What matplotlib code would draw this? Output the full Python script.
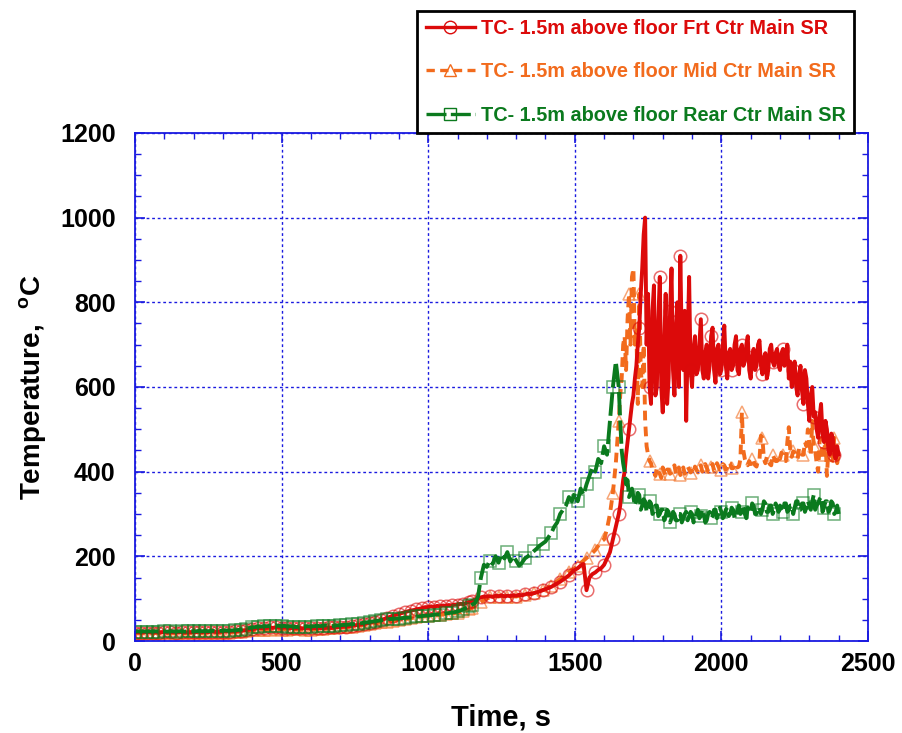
import numpy as np
import matplotlib
matplotlib.use('Agg')
import matplotlib.pyplot as plt
from matplotlib.lines import Line2D

plt.rcParams['font.family'] = ['Liberation Sans', 'DejaVu Sans']
plt.rcParams['font.weight'] = 'bold'
plt.rcParams['mathtext.fontset'] = 'custom'
plt.rcParams['mathtext.rm'] = 'Liberation Sans:bold'
plt.rcParams['mathtext.bf'] = 'Liberation Sans:bold'

# readings every 10 s up to 1640 s, every 5 s after that (noisy part)
t_early = np.arange(0, 1650, 10)
t_late = np.arange(1650, 2401, 5)

labels = ['TC- 1.5m above floor Frt Ctr Main SR',
          'TC- 1.5m above floor Mid Ctr Main SR',
          'TC- 1.5m above floor Rear Ctr Main SR']

frt_early = [
    20, 21, 20, 21, 20, 21, 20, 21, 20, 21,
    21, 20, 21, 21, 20, 21, 21, 20, 21, 21,
    21, 21, 22, 21, 22, 21, 22, 22, 21, 22,
    22, 23, 22, 23, 23, 24, 24, 25, 26, 27,
    28, 29, 30, 30, 31, 31, 32, 31, 32, 32,
    31, 32, 31, 30, 31, 30, 31, 30, 30, 31,
    30, 31, 30, 31, 30, 31, 32, 31, 32, 33,
    33, 34, 34, 35, 36, 37, 38, 39, 40, 42,
    43, 45, 46, 48, 50, 52, 55, 57, 60, 62,
    64, 66, 68, 70, 72, 73, 75, 76, 78, 80,
    80, 82, 80, 83, 82, 84, 83, 85, 84, 86,
    86, 88, 87, 90, 92, 95, 98, 100, 103, 105,
    105, 106, 104, 107, 106, 108, 105, 107, 106, 108,
    107, 109, 108, 110, 112, 111, 113, 115, 117, 120,
    122, 125, 128, 132, 136, 140, 145, 150, 155, 162,
    168, 172, 178, 182, 120, 150, 158, 162, 168, 172,
    180, 195, 210, 240, 270]
frt_late = [
    300, 320, 350, 380, 400, 440, 470, 500, 530, 560, 580, 620, 650, 700, 740, 820, 880, 960, 1000, 700,
    820, 600, 560, 780, 840, 580, 600, 760, 860, 600, 540, 700, 820, 560, 620, 780, 880, 640, 580, 740,
    800, 600, 910, 700, 640, 780, 520, 700, 860, 640, 600, 690, 720, 630, 640, 700, 760, 640, 620, 680,
    700, 620, 650, 720, 740, 640, 610, 690, 700, 630, 640, 700, 745, 650, 620, 680, 690, 640, 650, 700,
    720, 640, 630, 690, 700, 650, 660, 700, 720, 640, 620, 670, 690, 640, 650, 700, 710, 650, 630, 670,
    680, 620, 640, 690, 700, 660, 650, 680, 690, 650, 640, 680, 690, 650, 680, 700, 620, 660, 600, 640,
    660, 600, 580, 630, 650, 590, 560, 640, 620, 560, 520, 580, 600, 530, 540, 500, 480, 530, 560, 490,
    470, 520, 500, 450, 440, 490, 480, 440, 430, 460, 440]

mid_early = [
    18, 19, 18, 19, 18, 19, 18, 19, 18, 19,
    19, 18, 19, 19, 18, 19, 19, 18, 19, 19,
    19, 19, 20, 19, 20, 19, 20, 20, 19, 20,
    20, 21, 20, 21, 21, 22, 22, 23, 23, 24,
    25, 25, 26, 26, 27, 27, 27, 28, 28, 28,
    27, 28, 27, 27, 28, 27, 28, 27, 27, 28,
    27, 28, 28, 28, 29, 29, 30, 30, 31, 31,
    32, 32, 33, 33, 34, 35, 36, 37, 38, 39,
    40, 41, 42, 43, 44, 45, 46, 47, 48, 49,
    50, 51, 52, 53, 54, 55, 56, 57, 58, 59,
    60, 60, 61, 62, 62, 63, 64, 64, 65, 66,
    67, 68, 70, 72, 75, 78, 82, 87, 92, 97,
    100, 103, 104, 106, 105, 107, 106, 105, 104, 106,
    105, 107, 106, 108, 110, 111, 113, 115, 118, 120,
    123, 127, 131, 136, 141, 146, 152, 158, 163, 168,
    172, 178, 184, 190, 196, 202, 208, 215, 225, 235,
    240, 265, 300, 350, 420]
mid_late = [
    520, 580, 620, 700, 720, 640, 760, 820, 700, 860, 880, 700, 740, 560, 820, 640, 600, 700, 520, 460,
    440, 425, 420, 405, 400, 390, 410, 400, 395, 385, 410, 400, 390, 405, 405, 395, 398, 410, 415, 395,
    400, 410, 392, 400, 410, 395, 400, 412, 405, 398, 402, 395, 412, 405, 398, 410, 415, 400, 405, 418,
    410, 400, 400, 412, 418, 402, 406, 420, 412, 404, 405, 418, 415, 405, 410, 422, 420, 408, 408, 420,
    418, 410, 412, 430, 540, 450, 430, 418, 415, 425, 418, 430, 425, 415, 412, 428, 428, 485, 480, 430,
    420, 435, 428, 418, 415, 440, 432, 425, 425, 438, 430, 445, 440, 428, 425, 470, 505, 450, 435, 448,
    445, 435, 430, 455, 450, 440, 440, 470, 460, 500, 470, 440, 520, 460, 450, 420, 400, 470, 480, 430,
    440, 480, 390, 450, 470, 420, 430, 480, 460, 420, 440]

rear_early = [
    22, 23, 22, 23, 22, 23, 22, 23, 22, 23,
    23, 22, 23, 23, 22, 23, 23, 22, 23, 23,
    23, 23, 24, 23, 24, 23, 24, 24, 23, 24,
    24, 25, 24, 25, 25, 26, 27, 28, 29, 31,
    32, 33, 34, 34, 35, 35, 36, 35, 36, 36,
    35, 36, 34, 35, 34, 33, 34, 33, 34, 35,
    34, 35, 36, 35, 36, 37, 36, 35, 36, 37,
    37, 38, 38, 39, 40, 40, 41, 42, 43, 44,
    45, 46, 47, 48, 49, 50, 51, 52, 52, 53,
    53, 54, 55, 55, 56, 57, 58, 58, 59, 60,
    60, 61, 62, 63, 62, 64, 65, 66, 67, 68,
    70, 72, 75, 78, 82, 86, 90, 105, 150, 180,
    175, 190, 182, 200, 185, 205, 195, 210, 188, 200,
    190, 178, 185, 195, 200, 205, 212, 218, 225, 230,
    235, 245, 255, 270, 280, 300, 310, 320, 340, 330,
    350, 330, 360, 345, 370, 390, 410, 400, 430, 420,
    460, 440, 520, 600, 660]
rear_late = [
    600, 520, 450, 420, 400, 370, 380, 340, 350, 360, 340, 320, 330, 350, 345, 310, 320, 335, 330, 305,
    315, 330, 325, 300, 305, 320, 320, 295, 300, 310, 310, 285, 295, 310, 305, 280, 290, 305, 300, 285,
    285, 300, 300, 280, 290, 300, 305, 285, 295, 305, 300, 280, 290, 300, 310, 290, 295, 310, 300, 280,
    285, 300, 305, 290, 295, 310, 310, 290, 300, 315, 305, 290, 295, 310, 315, 295, 300, 315, 310, 290,
    295, 310, 320, 300, 305, 320, 300, 290, 315, 310, 305, 325, 320, 300, 300, 315, 315, 300, 310, 330,
    325, 305, 305, 320, 320, 300, 310, 325, 315, 305, 320, 310, 305, 325, 325, 305, 310, 320, 320, 300,
    315, 330, 330, 310, 310, 325, 325, 305, 315, 330, 320, 310, 330, 345, 310, 320, 325, 335, 340, 305,
    315, 330, 330, 305, 310, 330, 325, 300, 305, 320, 300]

time_s = np.concatenate([t_early, t_late])
frt = frt_early + frt_late
mid = mid_early + mid_late
rear = rear_early + rear_late

red = '#dc0a0a'
orange = '#f26b1d'
green = '#0b7a1e'
blue = '#1a1ae0'

# marker every 20 s early, 30 s in the rise, 35 s in the noisy part
n1 = len(t_early)
mk = list(range(0, 115, 2)) + list(range(115, n1, 3)) + list(range(n1, len(time_s), 7))

fig = plt.figure(figsize=(9.03, 7.33), dpi=100)
ax = fig.add_axes([0.1495, 0.1255, 0.8117, 0.6931])

lw = 2.8
ax.plot(time_s, mid, color=orange, lw=lw, ls=(0, (2.5, 1.6)),
        marker='^', ms=9, mfc='none', mec=(0.95, 0.42, 0.11, 0.6), mew=1.1, markevery=mk)
ax.plot(time_s, frt, color=red, lw=lw, ls='-',
        marker='o', ms=9, mfc='none', mec=(0.86, 0.04, 0.04, 0.6), mew=1.1, markevery=mk)
ax.plot(time_s, rear, color=green, lw=lw, ls=(0, (6, 1.3)),
        marker='s', ms=9, mfc='none', mec=(0.04, 0.48, 0.12, 0.6), mew=1.1, markevery=mk)

ax.set_xlim(0, 2500)
ax.set_ylim(0, 1200)
ax.set_xticks(np.arange(0, 2501, 500))
ax.set_yticks(np.arange(0, 1201, 200))
ax.set_xticks(np.arange(0, 2501, 100), minor=True)
ax.set_yticks(np.arange(0, 1201, 50), minor=True)
ax.grid(True, which='major', color=blue, ls=(0, (2, 2)), lw=1)

for s in ax.spines.values():
    s.set_color(blue)
    s.set_linewidth(1.3)
ax.tick_params(which='both', direction='in', colors=blue, top=True, right=True,
               labelcolor='black', labelsize=18)
ax.tick_params(which='major', length=7, width=1.2)
ax.tick_params(which='minor', length=4, width=1)
ax.tick_params(axis='y', pad=14)
ax.tick_params(axis='x', pad=8)

ax.set_xlabel('Time, s', fontsize=21, fontweight='bold', labelpad=20)
ax.set_ylabel(r'Temperature,  $^{\mathbf{o}}$C', fontsize=20, fontweight='bold', labelpad=8)

handles = [
    Line2D([], [], color=red, lw=2.4, marker='o', ms=9, mfc='none', mec=red, mew=1),
    Line2D([], [], color=orange, lw=2.4, ls=(0, (2.5, 1.6)), marker='^', ms=8, mfc='none', mec=orange, mew=1),
    Line2D([], [], color=green, lw=2.4, ls=(0, (6, 1.3)), marker='s', ms=8, mfc='none', mec=green, mew=1),
]
leg = fig.legend(handles, labels, loc='lower left', bbox_to_anchor=(0.462, 0.8186),
                 bbox_transform=fig.transFigure, prop={'weight': 'bold', 'size': 14.3},
                 labelcolor=[red, orange, green], frameon=True, fancybox=False,
                 edgecolor='black', framealpha=1, handlelength=2.5, handletextpad=0.3,
                 labelspacing=1.22, borderpad=0.42, borderaxespad=0)
leg.get_frame().set_linewidth(2)

fig.savefig('out.png', dpi=100)
